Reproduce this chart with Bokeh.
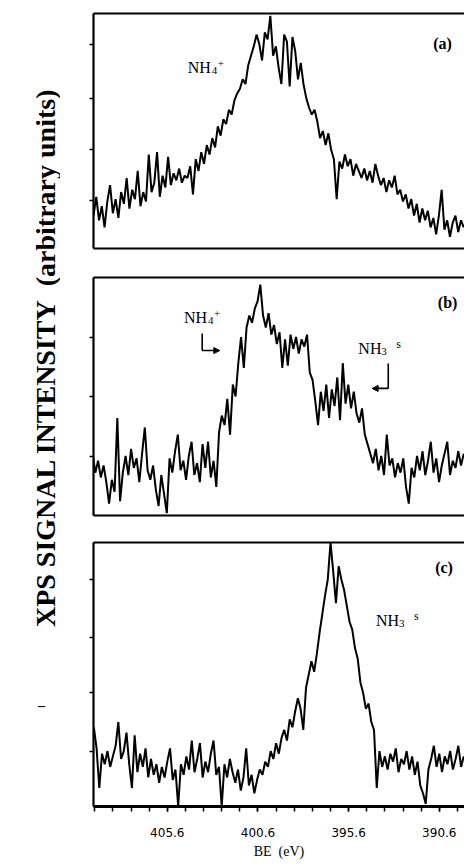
import math
from bokeh.plotting import figure
from bokeh.layouts import row, column
from bokeh.models import (Range1d, LinearAxis, FixedTicker, Label, Arrow, Grid,
                          NormalHead, ColumnDataSource, CustomJSTickFormatter)
from bokeh.embed import file_html
from bokeh.resources import INLINE

# ---- scan grid: binding energy (eV), sweep start and step of the analyser ----
BE_START = 409.65
BE_STEP = 0.15
N_POINTS = 137
be = [round(BE_START - BE_STEP * k, 2) for k in range(N_POINTS)]
BE_END = 389.21

# ---- N 1s signal, arbitrary units (0..100 in each panel) ----
int_a = [16, 19, 14, 22, 12, 18, 9, 20, 27, 15,
         21, 13, 24, 19, 30, 17, 25, 21, 33, 18,
         24, 20, 40, 24, 28, 41, 22, 31, 26, 39,
         27, 32, 29, 34, 28, 31, 30, 35, 23, 38,
         33, 41, 36, 44, 40, 47, 43, 52, 48, 55,
         53, 59, 57, 63, 66, 68, 72, 70, 78, 82,
         86, 91, 87, 80, 92, 89, 99, 82, 86, 77,
         70, 91, 88, 69, 90, 84, 72, 79, 70, 64,
         60, 57, 59, 54, 47, 50, 44, 49, 42, 38,
         21, 37, 34, 40, 35, 38, 31, 36, 33, 30,
         34, 29, 33, 28, 36, 31, 27, 30, 24, 29,
         26, 31, 23, 25, 20, 23, 17, 21, 14, 19,
         11, 17, 12, 16, 9, 13, 6, 14, 25, 8,
         12, 5, 11, 14, 7, 12, 9]

int_b = [22, 26, 18, 23, 16, 21, 14, 5, 15, 10,
         41, 6, 18, 25, 17, 28, 20, 24, 14, 26,
         37, 19, 15, 21, 11, 4, 17, 9, 1, 24,
         18, 27, 34, 19, 23, 15, 25, 31, 17, 22,
         14, 30, 20, 31, 16, 23, 12, 35, 42, 38,
         49, 34, 55, 50, 64, 75, 62, 79, 84, 81,
         87, 90, 97, 84, 79, 85, 76, 80, 72, 77,
         62, 74, 63, 76, 70, 75, 68, 74, 71, 76,
         60, 57, 48, 38, 52, 44, 55, 41, 53, 46,
         58, 40, 64, 47, 55, 45, 52, 43, 39, 45,
         34, 30, 26, 22, 28, 19, 25, 17, 34, 21,
         24, 16, 22, 18, 24, 12, 5, 20, 16, 25,
         19, 27, 17, 23, 31, 18, 24, 14, 21, 26,
         31, 17, 23, 20, 27, 21, 26]

int_c = [30, 22, 7, 20, 16, 21, 15, 19, 23, 32,
         18, 21, 28, 16, 7, 27, 13, 20, 15, 22,
         11, 18, 12, 16, 9, 15, 11, 17, 22, 10,
         14, 0, 16, 12, 19, 14, 25, 13, 18, 24,
         11, 17, 13, 20, 25, 12, 15, 0, 16, 11,
         18, 13, 9, 14, 6, 11, 22, 8, 12, 5,
         10, 14, 12, 17, 15, 21, 18, 24, 20, 26,
         29, 25, 33, 30, 36, 41, 37, 29, 45, 50,
         55, 51, 58, 66, 73, 80, 86, 100, 89, 77,
         91, 86, 82, 76, 70, 67, 60, 56, 47, 43,
         37, 39, 32, 29, 7, 21, 15, 19, 14, 20,
         17, 22, 13, 18, 16, 21, 14, 19, 12, 17,
         8, 5, 1, 14, 18, 23, 15, 20, 13, 19,
         16, 21, 14, 18, 23, 15, 19]

# ---- ticks ----
be_labeled_ticks = [405.6, 400.6, 395.6, 390.6]
be_all_ticks = [409.6, 408.6, 407.6, 406.6, 405.6, 404.6, 403.6, 402.6, 401.6,
                400.6, 399.6, 398.6, 397.6, 396.6, 395.6, 394.6, 393.6, 392.6,
                391.6, 390.6, 389.6]
int_ticks_a = [20.5, 42, 64, 87]
int_ticks_b = [25, 50, 75]
int_ticks_c = [21, 43, 64, 86]

SERIF = "Liberation Serif"
SANS = "DejaVu Sans"


def panel(values, yticks, x_start, height, left, top, bottom, with_scale=False):
    p = figure(width=404, height=height, output_backend="svg", toolbar_location=None,
               x_range=Range1d(x_start, BE_END), y_range=Range1d(0, 100),
               x_axis_location=None, y_axis_location=None,
               min_border_left=left, min_border_right=0,
               min_border_top=top, min_border_bottom=bottom)
    p.outline_line_color = None
    p.background_fill_color = "white"
    p.border_fill_color = "white"
    for g in p.select(type=Grid):
        g.visible = False

    blank = CustomJSTickFormatter(code="return ''")
    left_ax = LinearAxis(ticker=FixedTicker(ticks=yticks), formatter=blank,
                         axis_line_width=2.2, axis_line_color="black",
                         major_tick_out=4, major_tick_in=0, major_tick_line_width=1.5,
                         minor_tick_line_color=None, major_label_standoff=0)
    p.add_layout(left_ax, "left")
    top_ax = LinearAxis(ticker=FixedTicker(ticks=[]), formatter=blank,
                        axis_line_width=2.2, axis_line_color="black",
                        major_tick_line_color=None, minor_tick_line_color=None,
                        major_label_standoff=0)
    p.add_layout(top_ax, "above")
    if with_scale:
        bot_ax = LinearAxis(ticker=FixedTicker(ticks=be_labeled_ticks, minor_ticks=be_all_ticks),
                            axis_line_width=3, axis_line_color="black",
                            major_tick_out=5, major_tick_in=0, major_tick_line_width=1.5,
                            minor_tick_out=5, minor_tick_in=0, minor_tick_line_width=1.5,
                            minor_tick_line_color="black",
                            major_label_standoff=16,
                            major_label_text_font=SANS,
                            major_label_text_font_size="12px",
                            major_label_text_color="black",
                            axis_label="BE\u00a0\u00a0(eV)",
                            axis_label_standoff=4,
                            axis_label_text_font=SERIF,
                            axis_label_text_font_style="normal",
                            axis_label_text_font_size="14px",
                            axis_label_text_color="black")
    else:
        bot_ax = LinearAxis(ticker=FixedTicker(ticks=[]), formatter=blank,
                            axis_line_width=2.2, axis_line_color="black",
                            major_tick_line_color=None, minor_tick_line_color=None,
                            major_label_standoff=0)
    p.add_layout(bot_ax, "below")

    src = ColumnDataSource(dict(be=be, counts=values))
    p.line("be", "counts", source=src, line_color="black", line_width=2.0)
    return p


def species(p, x, y, main, sub, sup, sub_dx, sup_dx, sup_dy, sup_size="11px"):
    p.add_layout(Label(x=x, y=y, text=main, text_font=SERIF, text_font_size="16px",
                       text_baseline="alphabetic", text_color="black"))
    p.add_layout(Label(x=x, y=y, x_offset=sub_dx, y_offset=-3, text=sub, text_font=SERIF,
                       text_font_size="11px", text_baseline="alphabetic", text_color="black"))
    p.add_layout(Label(x=x, y=y, x_offset=sup_dx, y_offset=sup_dy, text=sup, text_font=SERIF,
                       text_font_size=sup_size, text_baseline="alphabetic", text_color="black"))


def tag(p, x, y, text):
    p.add_layout(Label(x=x, y=y, text=text, text_font=SERIF, text_font_style="bold",
                       text_font_size="16px", text_align="center", text_baseline="middle",
                       text_color="black"))


def hook(p, x0, y0, y1, x1):
    p.line([x0, x0], [y0, y1], line_color="black", line_width=1.6)
    p.add_layout(Arrow(x_start=x0, y_start=y1, x_end=x1, y_end=y1, line_width=1.6,
                       line_color="black",
                       end=NormalHead(size=6, fill_color="black", line_color="black")))


# ---- panels ----
pa = panel(int_a, int_ticks_a, 409.35, 262, 33, 13, 14)
species(pa, 404.24, 77.0, "NH", "4", "+", 24, 30, 4)
tag(pa, 390.4, 87.2, "(a)")

pb = panel(int_b, int_ticks_b, 409.45, 265, 31, 15, 12)
species(pb, 404.51, 83.2, "NH", "4", "+", 24, 30, 4)
species(pb, 395.0, 70.2, "NH", "3", "s", 23, 38, 4, "12px")
tag(pb, 390.13, 89.5, "(b)")
hook(pb, 403.52, 76.5, 69.3, 402.56)
hook(pb, 393.37, 63.9, 53.4, 394.25)

pc = panel(int_c, int_ticks_c, 409.67, 338, 27, 15, 59, with_scale=True)
species(pc, 394.09, 70.5, "NH", "3", "s", 23, 38, 4, "12px")
tag(pc, 390.34, 90.5, "(c)")

# ---- shared vertical axis title ----
lab = figure(width=60, height=865, output_backend="svg", toolbar_location=None,
             x_range=Range1d(0, 60), y_range=Range1d(0, 865),
             x_axis_location=None, y_axis_location=None,
             min_border_left=0, min_border_right=0, min_border_top=0, min_border_bottom=0)
lab.outline_line_color = None
for g in lab.select(type=Grid):
    g.visible = False
lab.add_layout(Label(x=45, y=508, text="XPS SIGNAL INTENSITY\u00a0\u00a0(arbitrary units)",
                     angle=math.pi / 2, text_align="center", text_baseline="middle",
                     text_font=SERIF, text_font_style="bold", text_font_size="28px",
                     text_color="black"))
lab.add_layout(Label(x=41, y=160, text="\u2013", text_align="center", text_baseline="middle",
                     text_font=SERIF, text_font_style="bold", text_font_size="14px",
                     text_color="black"))

layout = row(lab, column(pa, pb, pc))
open("out.html", "w").write(file_html(layout, INLINE))
